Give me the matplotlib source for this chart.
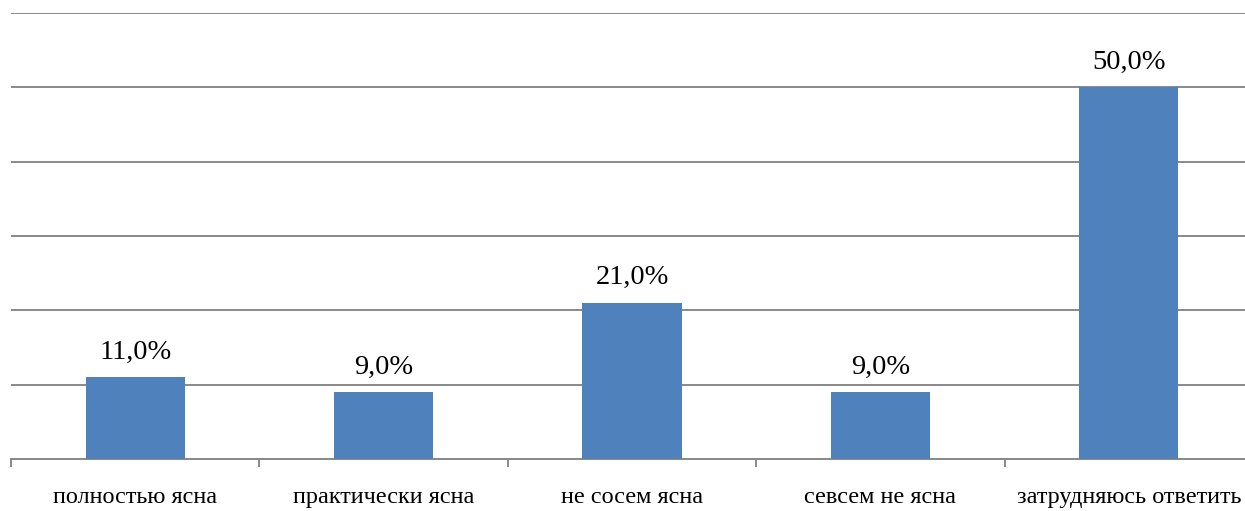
import numpy as np
import matplotlib.pyplot as plt

categories = ['полностью ясна', 'практически ясна', 'не сосем ясна',
              'севсем не ясна', 'затрудняюсь ответить']
values = [11.0, 9.0, 21.0, 9.0, 50.0]

plt.rcParams['font.family'] = ['Liberation Serif', 'DejaVu Serif']

fig = plt.figure(figsize=(12.45, 5.11), dpi=100)
# plot area runs past the right edge of the picture, as in the original
ax = fig.add_axes([11 / 1245, 52 / 511, 1242 / 1245, 446 / 511])

x = np.arange(len(categories))
ax.bar(x, values, width=0.4, color='#4F81BD', zorder=3)

for xi, v in zip(x, values):
    ax.annotate(('%.1f%%' % v).replace('.', ','), (xi, v),
                xytext=(0, 9), textcoords='offset points',
                ha='center', va='bottom', fontsize=20.5)

ax.set_xlim(-0.5, len(categories) - 0.5)
ax.set_ylim(0, 60)
ax.set_yticks(np.arange(0, 61, 10))
ax.yaxis.grid(True, color='#898989', linewidth=1.4, zorder=0)
ax.tick_params(axis='y', left=False, labelleft=False)

ax.set_xticks(x)
ax.set_xticklabels(categories, fontsize=17.5)
ax.set_xticks(np.arange(-0.5, len(categories)), minor=True)
ax.tick_params(axis='x', which='major', length=0, pad=20)
ax.tick_params(axis='x', which='minor', length=6, width=1.4, color='#898989')

for s in ['top', 'left', 'right']:
    ax.spines[s].set_visible(False)
ax.spines['bottom'].set_color('#898989')
ax.spines['bottom'].set_linewidth(1.4)

fig.savefig('out.png', dpi=100)
